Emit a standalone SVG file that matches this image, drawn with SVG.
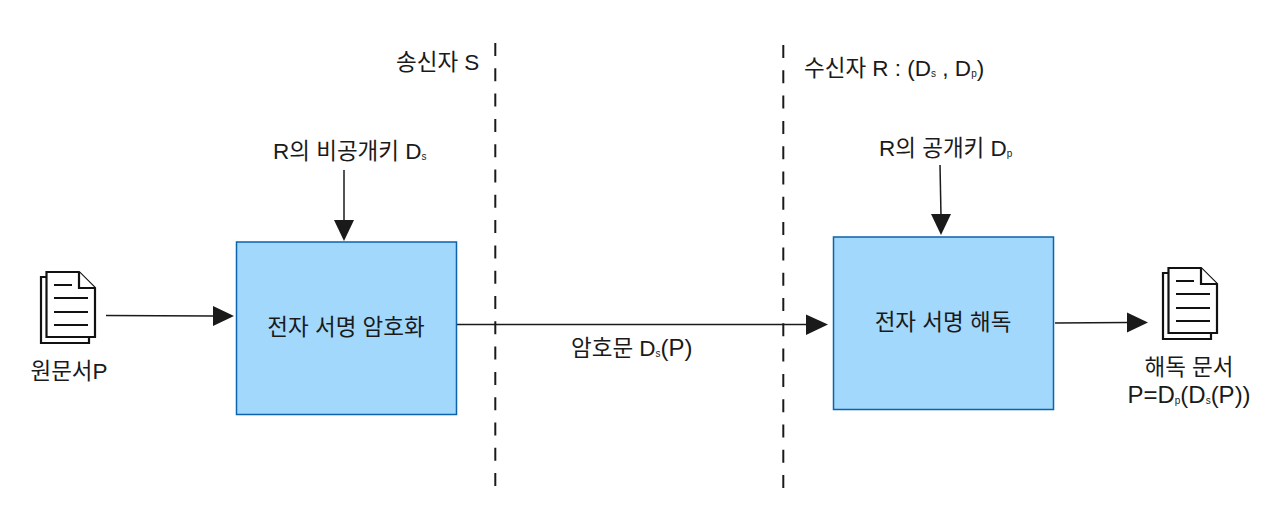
<svg xmlns="http://www.w3.org/2000/svg" width="1280" height="514" viewBox="0 0 1280 514">
<style>
text{font-family:"Liberation Sans","Noto Sans CJK KR",sans-serif;font-size:22.500px;fill:#1a1a1a}
.sub{font-size:10px}
.lat{font-size:24px}
.box{fill:#a3d8fd;stroke:#0b62ad;stroke-width:1.5}
.conn{fill:none;stroke:#1a1a1a;stroke-width:1.5}
.dash{fill:none;stroke:#1a1a1a;stroke-width:2;stroke-dasharray:13 12.300}
.head{fill:#1a1a1a}
.doc{fill:#fff;stroke:#111;stroke-width:2.200}
.back{fill:none;stroke:#111;stroke-width:2.200}
.ln{fill:none;stroke:#111;stroke-width:2}
</style>
<defs>
<g id="docIcon">
<path class="back" d="M5.500 5H0V71H48V65"/>
<path class="doc" d="M5.500 0H38L54 16V65H5.500Z"/>
<path class="doc" d="M38 0V16H54"/>
<path class="ln" d="M13 13H31M13 26H47M13 40H47M13 53H47"/>
</g>
</defs>
<g id="connectors">
<path class="dash" d="M495.300 43V487"/>
<path class="dash" d="M783.300 45V488"/>
<path class="conn" d="M106 315.500L214 316"/>
<path class="head" d="M213 306L234 316L213 326Z"/>
<path class="conn" d="M344 170V221"/>
<path class="head" d="M334 220H354L344 241Z"/>
<path class="conn" d="M940 165L941 216"/>
<path class="head" d="M931 214H951L941 235Z"/>
<path class="conn" d="M457 324.500H807"/>
<path class="head" d="M806 314.500L828 324.500L806 335Z"/>
<path class="conn" d="M1055 323L1128 322.500"/>
<path class="head" d="M1127 312.500L1148 322.500L1127 332.500Z"/>
</g>
<g id="doc-source"><use href="#docIcon" x="41" y="272"/><text x="69" y="379" text-anchor="middle">원문서P</text></g>
<g id="doc-result"><use href="#docIcon" x="1163" y="268"/><text x="1189" y="375" text-anchor="middle">해독 문서</text><text class="lat" x="1189" y="403" text-anchor="middle">P=D<tspan class="sub" dy="1">p</tspan><tspan dy="-1">(D</tspan><tspan class="sub" dy="1">s</tspan><tspan dy="-1">(P))</tspan></text></g>
<g id="encrypt"><rect class="box" x="236.500" y="242" width="220" height="172.500"/><text x="346" y="335" text-anchor="middle">전자 서명 암호화</text></g>
<g id="decrypt"><rect class="box" x="833.500" y="237" width="220" height="172.500"/><text x="943" y="330" text-anchor="middle">전자 서명 해독</text></g>
<g id="label-sender"><text x="396" y="70">송신자 S</text></g>
<g id="label-receiver"><text x="804" y="76">수신자 R : (D<tspan class="sub" dy="1">s</tspan><tspan dy="-1"> , D</tspan><tspan class="sub" dy="1">p</tspan><tspan dy="-1">)</tspan></text></g>
<g id="label-private"><text x="273" y="159">R의 비공개키 D<tspan class="sub" dy="1">s</tspan></text></g>
<g id="label-public"><text x="879" y="156">R의 공개키 D<tspan class="sub" dy="1">p</tspan></text></g>
<g id="label-cipher"><text x="571" y="356">암호문 D<tspan class="sub" dy="1">s</tspan><tspan class="lat" dy="-1">(P)</tspan></text></g>
</svg>
